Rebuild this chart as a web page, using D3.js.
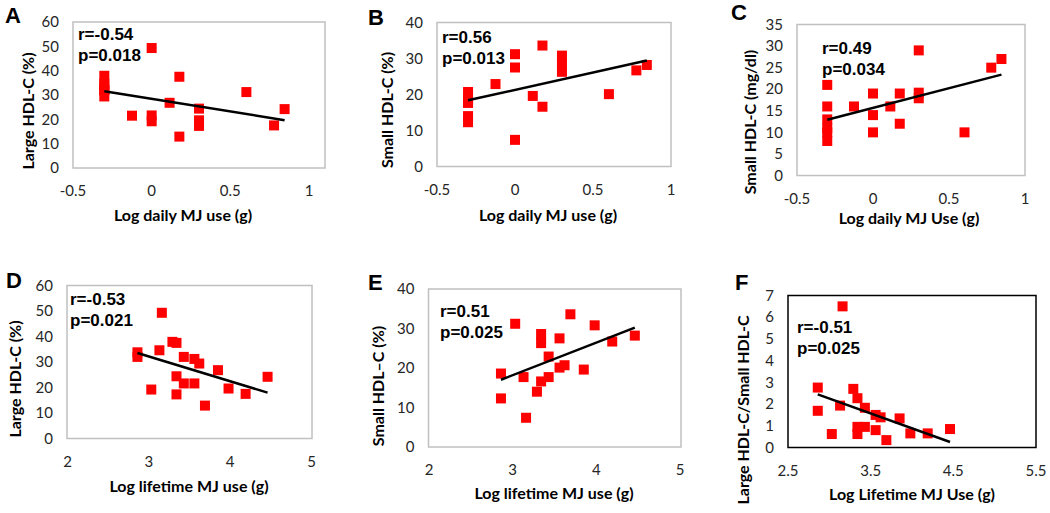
<!DOCTYPE html>
<html>
<head>
<meta charset="utf-8">
<script src="https://cdn.jsdelivr.net/npm/d3@7"></script>
<style>
  body { margin: 0; background: #fff; }
  .tick-label { font-family: Lato, "Open Sans", sans-serif; font-size: 15px; fill: #262626; }
  .ax-title { font-family: Lato, "Open Sans", sans-serif; font-size: 16px; font-weight: bold; fill: #000; }
  .stat { font-family: "Liberation Sans", Arial, sans-serif; font-size: 17px; font-weight: bold; fill: #000; }
  .letter { font-family: "Liberation Sans", Arial, sans-serif; font-size: 22px; font-weight: bold; fill: #000; }
</style>
</head>
<body>
<div id="chart"></div>
<script>
// ---- data ----
// log daily MJ use (g) for each subject, panels A-C
var dailyX = [-0.301, -0.301, -0.301, -0.301, -0.301, -0.301, -0.125, 0, 0, 0,
              0.114, 0.176, 0.176, 0.301, 0.301, 0.301, 0.602, 0.778, 0.845];
var largePctDaily = [29.4, 32.0, 32.0, 33.8, 34.6, 37.9, 21.5, 49.3, 21.6, 19.2,
                     26.8, 37.5, 12.9, 24.4, 19.6, 17.3, 31.2, 17.5, 24.2];
var smallPctDaily = [20.7, 18.6, 17.7, 17.7, 14.0, 12.3, 22.9, 31.2, 27.5, 7.4,
                     19.6, 33.6, 16.6, 30.8, 28.6, 26.3, 20.1, 26.7, 28.2];
var smallMgDaily  = [21, 16, 13, 11, 10, 8, 16, 19, 14, 10,
                     16, 19, 12, 29, 19.2, 17.9, 10, 25, 27];

// log lifetime MJ use (g), panels D-F
var lifetimeX = [2.86, 2.86, 3.03, 3.13, 3.16, 3.29, 3.34, 3.34, 3.34, 3.43,
                 3.43, 3.56, 3.56, 3.62, 3.69, 3.85, 3.98, 4.19, 4.46];
var largePctLife = [33.8, 32.0, 19.2, 34.6, 49.3, 37.9, 37.5, 24.4, 17.3, 32.0,
                    21.6, 31.2, 21.6, 29.4, 12.9, 26.8, 19.6, 17.5, 24.2];
var smallPctLife = [18.6, 12.3, 31.2, 17.7, 7.4, 14.0, 28.6, 26.3, 16.6, 22.9,
                    17.7, 27.5, 20.1, 20.7, 33.6, 19.6, 30.8, 26.7, 28.2];
var ratioLife = [2.76, 1.69, 0.62, 1.93, 6.5, 2.7, 2.27, 0.95, 0.62, 1.83,
                 0.95, 1.5, 0.8, 1.39, 0.34, 1.34, 0.65, 0.65, 0.85];

var dailyTicks = [-0.5, 0, 0.5, 1];
var lifeTicks = [2, 3, 4, 5];
var ratioXTicks = [2.5, 3.5, 4.5, 5.5];

var rLabels = ["r=-0.54", "r=0.56", "r=0.49", "r=-0.53", "r=0.51", "r=-0.51"];
var pLabels = ["p=0.018", "p=0.013", "p=0.034", "p=0.021", "p=0.025", "p=0.025"];

// ---- panel layout (pixels) ----
var panels = [
  {letter: "A", xs: dailyX, ys: largePctDaily, xTicks: dailyTicks, xDom: [-0.5, 1], yTicks: d3.range(0, 61, 10),
   box: [73, 325, 22, 168], xRange: [73, 309], xTitle: "Log daily MJ use (g)", yTitle: "Large HDL-C (%)",
   xt: [183, 221], yt: [28, 111], st: [78, 40], lt: [5, 23], border: "#c0c0c0"},
  {letter: "B", xs: dailyX, ys: smallPctDaily, xTicks: dailyTicks, xDom: [-0.5, 1], yTicks: d3.range(0, 41, 10),
   box: [437, 671, 22.5, 166.5], xRange: [437, 671], xTitle: "Log daily MJ use (g)", yTitle: "Small HDL-C (%)",
   xt: [548, 221], yt: [387, 110], st: [442, 43], lt: [368, 25], border: "#c0c0c0"},
  {letter: "C", xs: dailyX, ys: smallMgDaily, xTicks: dailyTicks, xDom: [-0.5, 1], yTicks: d3.range(0, 36, 5),
   box: [797, 1025, 24.5, 175.5], xRange: [797, 1025], xTitle: "Log daily MJ Use (g)", yTitle: "Small HDL-C (mg/dl)",
   xt: [909, 224], yt: [750, 122], st: [822, 54], lt: [731, 20], border: "#c0c0c0"},
  {letter: "D", xs: lifetimeX, ys: largePctLife, xTicks: lifeTicks, xDom: [2, 5], yTicks: d3.range(0, 61, 10),
   box: [67, 312, 285.5, 438.5], xRange: [67.5, 311.5], xTitle: "Log lifetime MJ use (g)", yTitle: "Large HDL-C (%)",
   xt: [189, 492], yt: [15, 379], st: [70, 305], lt: [6, 288], border: "#c0c0c0"},
  {letter: "E", xs: lifetimeX, ys: smallPctLife, xTicks: lifeTicks, xDom: [2, 5], yTicks: d3.range(0, 41, 10),
   box: [428.5, 681, 289, 447], xRange: [429, 680], xTitle: "Log lifetime MJ use (g)", yTitle: "Small HDL\u2013C (%)",
   xt: [554, 499], yt: [378, 386], st: [440, 317], lt: [368, 290], border: "#c0c0c0"},
  {letter: "F", xs: lifetimeX, ys: ratioLife, xTicks: ratioXTicks, xDom: [2.5, 5.5], yTicks: d3.range(0, 8, 1),
   box: [788, 1036, 295.5, 447.5], xRange: [788, 1036], xTitle: "Log Lifetime MJ Use (g)", yTitle: "Large HDL-C/Small HDL-C",
   xt: [912, 500], yt: [743, 410], st: [797, 333], lt: [735, 290], border: "#000"}
];

var svg = d3.select("#chart").append("svg")
    .attr("width", 1050)
    .attr("height", 513);

// least squares fit, like the Excel trendline
function fit(xs, ys) {
  var mx = d3.mean(xs), my = d3.mean(ys);
  var sxy = d3.sum(xs, function(d, i) { return (d - mx) * (ys[i] - my); });
  var sxx = d3.sum(xs, function(d) { return (d - mx) * (d - mx); });
  var b = sxy / sxx;
  return {a: my - b * mx, b: b};
}

panels.forEach(function(p, k) {
  var g = svg.append("g");
  var x = d3.scaleLinear().domain(p.xDom).range(p.xRange);
  var y = d3.scaleLinear().domain([0, d3.max(p.yTicks)]).range([p.box[3], p.box[2]]);

  // frame
  g.append("rect")
      .attr("x", p.box[0]).attr("y", p.box[2])
      .attr("width", p.box[1] - p.box[0]).attr("height", p.box[3] - p.box[2])
      .attr("fill", "none").attr("stroke", p.border).attr("stroke-width", 1.5);

  // y tick labels
  g.selectAll(".ytl").data(p.yTicks).enter().append("text")
      .attr("class", "tick-label")
      .attr("x", p.box[0] - 14)
      .attr("y", function(d) { return y(d); })
      .attr("dy", "0.35em")
      .attr("text-anchor", "end")
      .text(function(d) { return d; });

  // x tick labels
  g.selectAll(".xtl").data(p.xTicks).enter().append("text")
      .attr("class", "tick-label")
      .attr("x", function(d) { return x(d); })
      .attr("y", p.box[3] + 23)
      .attr("dy", "0.35em")
      .attr("text-anchor", "middle")
      .text(function(d) { return d; });

  // axis titles
  g.append("text").attr("class", "ax-title")
      .attr("x", p.xt[0]).attr("y", p.xt[1])
      .attr("text-anchor", "middle")
      .text(p.xTitle);
  g.append("text").attr("class", "ax-title")
      .attr("transform", "translate(" + p.yt[0] + "," + p.yt[1] + ")rotate(-90)")
      .attr("dy", "0.35em")
      .attr("text-anchor", "middle")
      .text(p.yTitle);

  // points
  var pts = p.xs.map(function(d, i) { return [d, p.ys[i]]; });
  var s = 10;
  g.selectAll(".pt").data(pts).enter().append("rect")
      .attr("x", function(d) { return x(d[0]) - s / 2; })
      .attr("y", function(d) { return y(d[1]) - s / 2; })
      .attr("width", s).attr("height", s)
      .attr("fill", "#ff0000");

  // trendline over the data range
  var f = fit(p.xs, p.ys);
  var ext = d3.extent(p.xs);
  g.append("line")
      .attr("x1", x(ext[0])).attr("y1", y(f.a + f.b * ext[0]))
      .attr("x2", x(ext[1])).attr("y2", y(f.a + f.b * ext[1]))
      .attr("stroke", "#000").attr("stroke-width", 2.5);

  // stats and panel letter
  g.append("text").attr("class", "stat").attr("x", p.st[0]).attr("y", p.st[1]).text(rLabels[k]);
  g.append("text").attr("class", "stat").attr("x", p.st[0]).attr("y", p.st[1] + 21).text(pLabels[k]);
  g.append("text").attr("class", "letter").attr("x", p.lt[0]).attr("y", p.lt[1]).text(p.letter);
});
</script>
</body>
</html>
